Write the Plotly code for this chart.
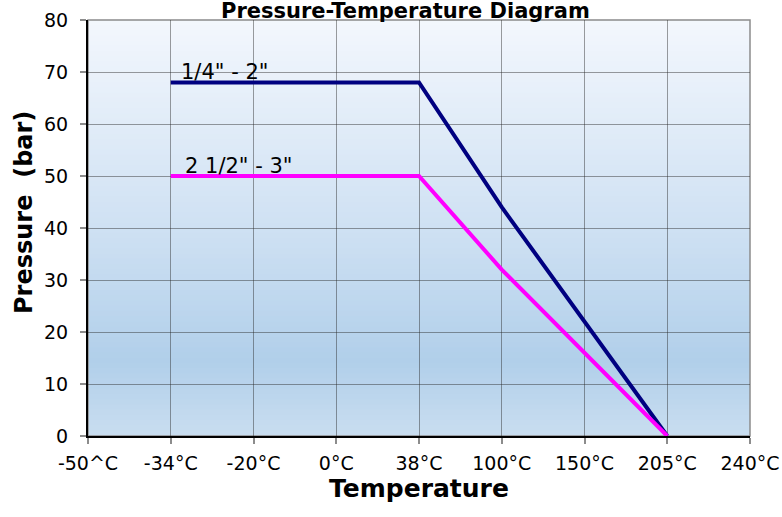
import plotly.graph_objects as go

# ---- data ----
categories = ["-50^C", "-34°C", "-20°C", "0°C", "38°C", "100°C", "150°C", "205°C", "240°C"]
x_small = ["-34°C", "38°C", "100°C", "150°C", "205°C"]
p_small = [68, 68, 44, 22, 0]
x_large = ["-34°C", "38°C", "100°C", "150°C", "205°C"]
p_large = [50, 50, 32, 16, 0]
label_small = '1/4" - 2"'
label_large = '2 1/2" - 3"'
y_ticks = [0, 10, 20, 30, 40, 50, 60, 70, 80]

FONT = "DejaVu Sans"

fig = go.Figure()
fig.add_trace(go.Scatter(x=x_small, y=p_small, mode="lines",
                         line=dict(color="#000080", width=4), name=label_small,
                         showlegend=False))
fig.add_trace(go.Scatter(x=x_large, y=p_large, mode="lines",
                         line=dict(color="#ff00ff", width=4), name=label_large,
                         showlegend=False))

# background gradient bands (styling)
def lerp(c1, c2, t):
    return tuple(round(a + (b - a) * t) for a, b in zip(c1, c2))

stops = [(0.0, (243, 247, 253)), (0.5, (207, 225, 243)), (0.82, (177, 207, 234)), (1.0, (201, 221, 240))]
def color_at(f):
    for (f1, c1), (f2, c2) in zip(stops[:-1], stops[1:]):
        if f1 <= f <= f2:
            return lerp(c1, c2, (f - f1) / (f2 - f1))
    return stops[-1][1]

N = 80
shapes = []
for i in range(N):
    f = (i + 0.5) / N  # from top
    c = color_at(f)
    shapes.append(dict(type="rect", xref="x domain", yref="y domain",
                       x0=0, x1=1, y0=1 - (i + 1) / N - 0.001, y1=1 - i / N + 0.001,
                       fillcolor="rgb(%d,%d,%d)" % c, line=dict(width=0), layer="below"))
shapes.append(dict(type="rect", xref="x domain", yref="y domain", x0=0, x1=1, y0=0, y1=1,
                   line=dict(color="#8c8c8c", width=1.5), fillcolor="rgba(0,0,0,0)", layer="below"))

L, R, T, B = 88, 32, 20, 81
PW, PH = 782 - L - R, 517 - T - B

fig.update_layout(
    width=782, height=517,
    margin=dict(l=L, r=R, t=T, b=B, autoexpand=False),
    paper_bgcolor="white", plot_bgcolor="white",
    font=dict(family=FONT, size=19, color="black"),
    shapes=shapes,
    showlegend=False,
)

fig.update_xaxes(
    type="category", categoryorder="array", categoryarray=categories,
    tickmode="array", tickvals=categories, ticktext=categories,
    range=[0, len(categories) - 1],
    automargin=False,
    showgrid=True, gridcolor="rgba(40,40,40,0.45)", gridwidth=1,
    showline=True, linecolor="black", linewidth=2,
    ticks="outside", ticklen=6, tickcolor="#8c8c8c", tickwidth=1.5,
    ticklabelstandoff=3,
    tickfont=dict(family=FONT, size=19),
    title=dict(text="<b>Temperature</b>", font=dict(family=FONT, size=25), standoff=7),
    zeroline=False,
)
fig.update_yaxes(
    range=[0, 80], tickmode="array", tickvals=y_ticks,
    automargin=False,
    showgrid=True, gridcolor="rgba(40,40,40,0.45)", gridwidth=1,
    showline=True, linecolor="black", linewidth=2,
    ticks="outside", ticklen=6, tickcolor="#8c8c8c", tickwidth=1.5,
    ticklabelstandoff=8,
    tickfont=dict(family=FONT, size=19),
    zeroline=False,
)

# y-axis title (placed slightly above centre as in the reference)
fig.add_annotation(xref="paper", yref="paper", x=(24 - L) / PW, y=(436 - 213) / PH,
                   xanchor="center", yanchor="middle", showarrow=False, textangle=-90,
                   text="<b>Pressure\u00a0\u00a0(bar)</b>",
                   font=dict(family=FONT, size=24, color="black"))

fig.add_annotation(x=x_small[0], y=p_small[0], text=label_small, showarrow=False,
                   xanchor="left", yanchor="bottom", xshift=8, yshift=-4,
                   font=dict(family=FONT, size=21, color="black"))
fig.add_annotation(x=x_large[0], y=p_large[0], text=label_large, showarrow=False,
                   xanchor="left", yanchor="bottom", xshift=12, yshift=-4,
                   font=dict(family=FONT, size=21, color="black"))

fig.add_annotation(xref="paper", yref="paper", x=(405 - L) / PW, y=1 + 9 / PH,
                   xanchor="center", yanchor="middle", showarrow=False,
                   text="<b>Pressure-Temperature Diagram</b>",
                   font=dict(family=FONT, size=21, color="black"))

fig.write_html("out.html", config={"displayModeBar": False},
               post_script="document.body.style.margin='0';document.body.style.padding='0';")
